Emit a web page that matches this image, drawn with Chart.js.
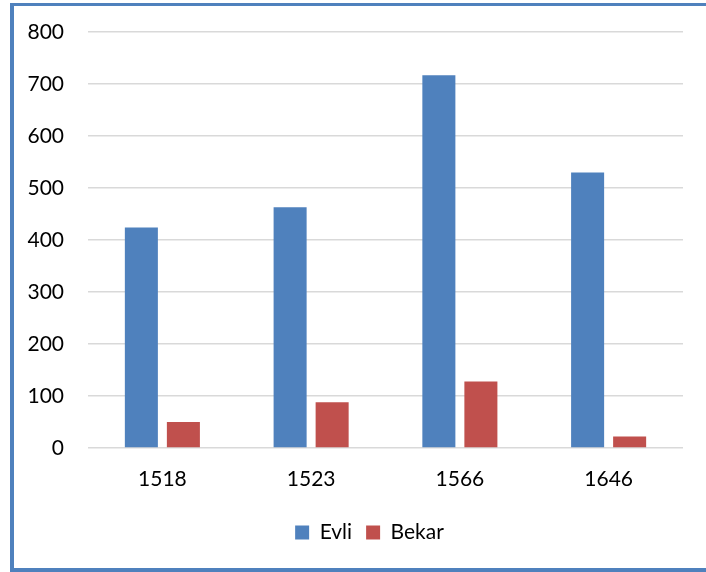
<!DOCTYPE html>
<html>
<head>
<meta charset="utf-8">
<title>Evli / Bekar</title>
<script src="https://cdn.jsdelivr.net/npm/chart.js@4.4.1/dist/chart.umd.min.js"></script>
<style>
  html, body { margin: 0; padding: 0; background: #fff; overflow: hidden; }
  #wrap { position: relative; width: 706px; height: 572px; }
  #grafik { position: absolute; left: 0; top: 0; }
  #cerceve {
    position: absolute; left: 10px; top: 3px; width: 720px; height: 569px;
    box-sizing: border-box; border: 4px solid #4f81bd; border-top-width: 3px;
    pointer-events: none;
  }
</style>
</head>
<body>
<div id="wrap">
  <canvas id="grafik" width="706" height="572"></canvas>
  <div id="cerceve"></div>
</div>
<script>
const yillar = ["1518", "1523", "1566", "1646"];
const evli = [424, 463, 717, 530];
const bekar = [50, 88, 128, 22];
const yTicks = [0, 100, 200, 300, 400, 500, 600, 700, 800];

const yazi = { family: "Lato, 'Open Sans', sans-serif", size: 21 };

// nudge the legend right so it sits centred under the frame
const legendKaydir = {
  id: "legendKaydir",
  afterLayout(chart) {
    const lg = chart.legend;
    if (lg) { lg.left += 28; lg.right += 28; }
  }
};

new Chart(document.getElementById("grafik"), {
  type: "bar",
  data: {
    labels: yillar,
    datasets: [
      { label: "Evli", data: evli, backgroundColor: "#4f81bd" },
      { label: "Bekar", data: bekar, backgroundColor: "#c0504d" }
    ]
  },
  options: {
    responsive: false,
    animation: false,
    layout: { padding: { left: 0, right: 23, top: 32, bottom: 19 } },
    datasets: { bar: { categoryPercentage: 0.565, barPercentage: 0.786 } },
    scales: {
      x: {
        grid: { display: false, drawTicks: false },
        border: { display: false },
        ticks: { color: "#000", font: yazi, padding: 19 },
        afterFit: (s) => { s.height = 60; }
      },
      y: {
        min: 0,
        max: 800,
        afterBuildTicks: (s) => { s.ticks = yTicks.map(v => ({ value: v })); },
        grid: { color: "#d9d9d9", lineWidth: 1.5, drawTicks: false },
        border: { display: false },
        ticks: { color: "#000", font: yazi, padding: 24 },
        afterFit: (s) => { s.width = 88; s.paddingTop = 0; s.paddingBottom = 0; }
      }
    },
    plugins: {
      tooltip: { enabled: false },
      legend: {
        position: "bottom",
        labels: { color: "#000", font: yazi, boxWidth: 14, boxHeight: 14, padding: 14 }
      }
    }
  },
  plugins: [legendKaydir]
});
</script>
</body>
</html>
